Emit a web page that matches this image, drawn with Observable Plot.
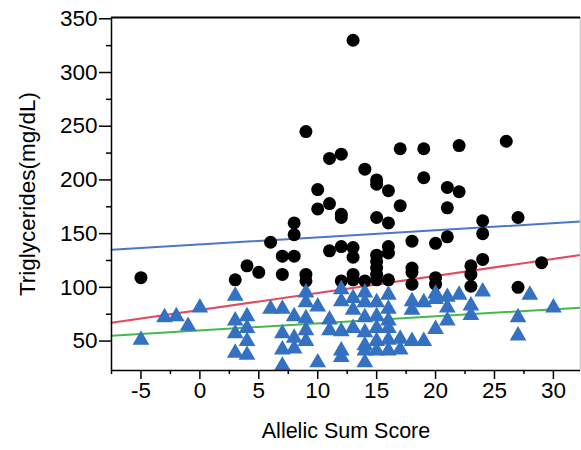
<!DOCTYPE html>
<html>
<head>
<meta charset="utf-8">
<script src="https://cdn.jsdelivr.net/npm/d3@7"></script>
<script src="https://cdn.jsdelivr.net/npm/@observablehq/plot@0.6"></script>
<style>
  body { margin: 0; background: #fff; }
</style>
</head>
<body>
<div id="chart"></div>
<script>
// Triglycerides vs allelic sum score: black circles and blue triangles are the
// two groups of subjects; three straight trend lines run across the panel.

const circleScore = [
  -5, 3, 4, 5, 6,
  7, 7, 8, 8, 8, 9, 9, 9, 10, 10, 11, 11, 11,
  12, 12, 12, 12, 12, 13, 13, 13, 13, 13, 14, 14,
  15, 15, 15, 15, 15, 15, 15, 15, 16, 16, 16, 16, 16,
  17, 17, 18, 18, 18, 18, 19, 19, 20, 20, 20,
  21, 21, 21, 22, 22, 23, 23, 23, 24, 24, 24, 26, 27, 27, 29
];
const circleTG = [
  109, 107, 120, 114, 142,
  129, 112, 160, 149, 129, 245, 112, 106, 191, 173, 220, 178, 134,
  224, 168, 165, 138, 106, 330, 137, 128, 112, 107, 210, 106,
  200, 196, 165, 130, 124, 118, 112, 107, 190, 160, 138, 132, 107,
  229, 176, 143, 118, 114, 103, 229, 202, 141, 109, 103,
  193, 174, 147, 232, 189, 120, 112, 101, 162, 150, 126, 236, 165, 100, 123
];

const triangleScore = [
  -5, -3, -2, -1, 0,
  3, 3, 3, 3, 4, 4, 4, 4, 6,
  7, 7, 7, 7, 8, 8, 8, 9, 9, 9, 9, 9, 10, 10, 11, 11,
  12, 12, 12, 12, 12, 13, 13, 13,
  14, 14, 14, 14, 14, 14, 14, 15, 15, 15, 15, 15,
  16, 16, 16, 16, 16, 16, 17, 17, 18, 18, 18, 19, 19,
  20, 20, 20, 21, 21, 21, 22, 23, 23, 24, 27, 27, 28, 30
];
const triangleTG = [
  51, 72, 73, 64, 81,
  92, 69, 57, 39, 73, 62, 50, 37, 80,
  80, 57, 42, 27, 73, 53, 43, 95, 86, 71, 60, 50, 82, 30, 70, 60,
  98, 87, 59, 41, 35, 90, 79, 62,
  95, 86, 72, 58, 46, 41, 30, 86, 73, 62, 50, 41,
  93, 80, 69, 62, 51, 41, 52, 42, 87, 79, 50, 86, 50,
  94, 89, 61, 91, 81, 69, 93, 83, 74, 96, 72, 55, 93, 81
];

// Trend lines, given by their values at the two ends of the score axis
const fitScores = [-7.5, 32.3];
const blueFit = [135, 161.2];
const redFit = [67, 130.2];
const greenFit = [55, 81.1];

// Axis ticks
const xMajor = [-5, 0, 5, 10, 15, 20, 25, 30];
const xMinor = [-7.5, -2.5, 2.5, 7.5, 12.5, 17.5, 22.5, 27.5];
const yMajor = [50, 100, 150, 200, 250, 300, 350];
const yMinor = [75, 125, 175, 225, 275, 325];
const xDomain = [-7.5, 32.3];
const yDomain = [22.6, 351.2];

const circles = circleScore.map((s, i) => ({score: s, tg: circleTG[i]}));
const triangles = triangleScore.map((s, i) => ({score: s, tg: triangleTG[i]}));
const fitLine = (vals) => fitScores.map((s, i) => ({score: s, tg: vals[i]}));

const chart = Plot.plot({
  width: 581,
  height: 450,
  marginLeft: 111,
  marginRight: 1,
  marginTop: 17,
  marginBottom: 80,
  style: {
    fontFamily: "'Liberation Sans', Arial, Helvetica, sans-serif",
    background: "white",
    color: "black"
  },
  x: {domain: xDomain},
  y: {domain: yDomain},
  marks: [
    Plot.line(fitLine(blueFit), {x: "score", y: "tg", stroke: "#4a78c8", strokeWidth: 2}),
    Plot.line(fitLine(redFit), {x: "score", y: "tg", stroke: "#e34a60", strokeWidth: 2}),
    Plot.line(fitLine(greenFit), {x: "score", y: "tg", stroke: "#45b84c", strokeWidth: 2}),
    Plot.dot(circles, {x: "score", y: "tg", r: 6.5, fill: "black", stroke: "none"}),
    Plot.dot(triangles, {x: "score", y: "tg", symbol: "triangle", r: 6.2, fill: "#3571c2", stroke: "none"}),

    // frame: black left/top/bottom, light grey on the right
    Plot.ruleX([xDomain[1]], {stroke: "#c8c8c8", strokeWidth: 1.5}),
    Plot.ruleY([yDomain[1]], {stroke: "black", strokeWidth: 1.8}),
    Plot.ruleY([yDomain[0]], {stroke: "black", strokeWidth: 1.5}),
    Plot.ruleX([xDomain[0]], {stroke: "black", strokeWidth: 1.5}),

    Plot.axisX(xMajor, {tickSize: 9, tickPadding: 3, fontSize: 22.5, strokeWidth: 1.5, label: null, tickFormat: (d) => String(d)}),
    Plot.axisX(xMinor, {tickSize: 4, tickFormat: () => "", strokeWidth: 1.5, label: null}),
    Plot.axisY(yMajor, {tickSize: 12, tickPadding: 2, fontSize: 22.5, strokeWidth: 1.5, label: null, tickFormat: (d) => String(d)}),
    Plot.axisY(yMinor, {tickSize: 5, tickFormat: () => "", strokeWidth: 1.5, label: null}),

    Plot.text(["Allelic Sum Score"], {frameAnchor: "bottom", dy: 67, fontSize: 21.5, fill: "black", textAnchor: "middle"}),
    Plot.text(["Triglycerides(mg/dL)"], {frameAnchor: "left", dx: -84, rotate: -90, fontSize: 22.5, fill: "black", textAnchor: "middle"})
  ]
});

document.getElementById("chart").append(chart);
</script>
</body>
</html>
